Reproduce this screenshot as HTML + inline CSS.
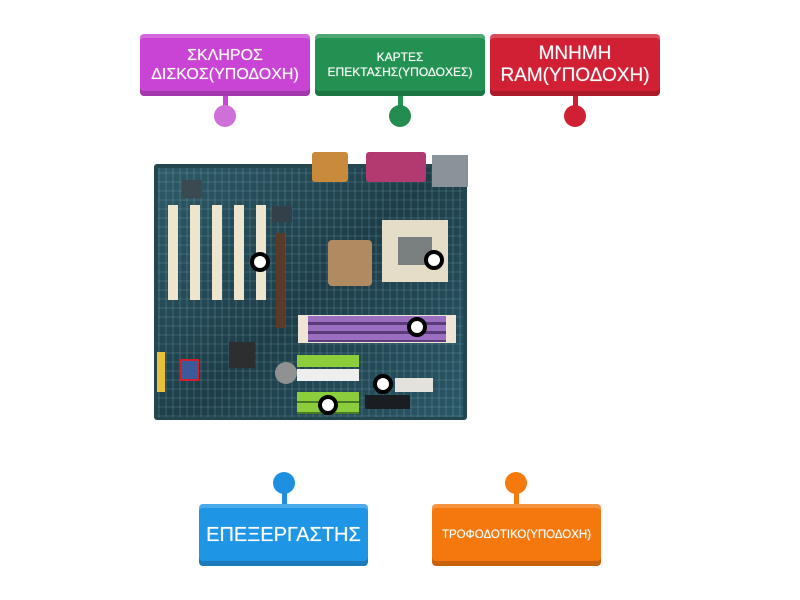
<!DOCTYPE html>
<html><head><meta charset="utf-8"><style>
body{margin:0;width:800px;height:600px;background:#fff;position:relative;overflow:hidden;font-family:"Liberation Sans","DejaVu Sans",sans-serif}
.box{position:absolute;width:170px;height:62px;border-radius:4px;color:#fff;display:flex;align-items:center;justify-content:center;text-align:center;box-sizing:border-box;box-shadow:inset 0 -5px 0 rgba(0,0,0,.18),inset 0 4px 0 rgba(255,255,255,.2);text-shadow:0 0 1px rgba(255,255,255,.6)}
.stem{position:absolute;width:5px}
.dot{position:absolute;width:22px;height:22px;border-radius:50%}
.a{position:absolute}
.m{position:absolute;width:12px;height:12px;border-radius:50%;background:#fff;border:4px solid #000}
</style></head><body>
<div class="box" style="left:140px;top:34px;background:#c944d4;font-size:16px;line-height:19px">ΣΚΛΗΡΟΣ<br>ΔΙΣΚΟΣ(ΥΠΟΔΟΧΗ)</div>
<div class="stem" style="left:223px;top:96px;height:18px;background:#c944d4"></div>
<div class="dot" style="left:214px;top:105px;background:#cf6fd8"></div>
<div class="box" style="left:315px;top:34px;background:#239152;font-size:12px;line-height:15px">ΚΑΡΤΕΣ<br>ΕΠΕΚΤΑΣΗΣ(ΥΠΟΔΟΧΕΣ)</div>
<div class="stem" style="left:398px;top:96px;height:18px;background:#239152"></div>
<div class="dot" style="left:389px;top:105px;background:#248c50"></div>
<div class="box" style="left:490px;top:34px;background:#d11f34;font-size:19px;line-height:22px">ΜΝΗΜΗ<br>RAM(ΥΠΟΔΟΧΗ)</div>
<div class="stem" style="left:573px;top:96px;height:18px;background:#d11f34"></div>
<div class="dot" style="left:564px;top:105px;background:#d11f34"></div>

<div class="stem" style="left:282px;top:484px;height:20px;background:#1f8fe0"></div>
<div class="dot" style="left:273px;top:472px;background:#1f8fe0"></div>
<div class="box" style="left:199px;top:504px;width:169px;background:#1f95e6;font-size:20px">ΕΠΕΞΕΡΓΑΣΤΗΣ</div>
<div class="stem" style="left:514px;top:484px;height:20px;background:#f57a0d"></div>
<div class="dot" style="left:505px;top:472px;background:#f57a0d"></div>
<div class="box" style="left:432px;top:504px;width:169px;background:#f5780e;font-size:11.5px">ΤΡΟΦΟΔΟΤΙΚΟ(ΥΠΟΔΟΧΗ)</div>

<div class="a" style="left:154px;top:164px;width:313px;height:256px;background:#23464f;border-radius:3px"></div>
<div class="a" style="left:158px;top:168px;width:305px;height:249px;background:repeating-linear-gradient(90deg,rgba(160,200,210,.12) 0 2px,transparent 2px 7px),repeating-linear-gradient(0deg,rgba(160,200,210,.1) 0 2px,transparent 2px 9px),linear-gradient(135deg,#2e5a68,#1d3d48 50%,#2a5766)"></div>
<div class="a" style="left:312px;top:152px;width:36px;height:30px;background:#c98a3c;border-radius:3px"></div>
<div class="a" style="left:366px;top:152px;width:60px;height:30px;background:#b23a70;border-radius:3px"></div>
<div class="a" style="left:432px;top:155px;width:36px;height:32px;background:#8a9399"></div>
<div class="a" style="left:182px;top:180px;width:20px;height:18px;background:#3a4a50"></div>
<div class="a" style="left:272px;top:206px;width:20px;height:16px;background:#33404a"></div>
<div class="a" style="left:168px;top:205px;width:10px;height:95px;background:#eee5cf"></div>
<div class="a" style="left:190px;top:205px;width:10px;height:95px;background:#eee5cf"></div>
<div class="a" style="left:212px;top:205px;width:10px;height:95px;background:#eee5cf"></div>
<div class="a" style="left:234px;top:205px;width:10px;height:95px;background:#eee5cf"></div>
<div class="a" style="left:256px;top:205px;width:10px;height:95px;background:#eee5cf"></div>
<div class="a" style="left:276px;top:233px;width:9px;height:95px;background:#5a3a28"></div>
<div class="a" style="left:382px;top:220px;width:66px;height:62px;background:#e5ddc8"></div>
<div class="a" style="left:398px;top:237px;width:34px;height:28px;background:#7a7f7f"></div>
<div class="a" style="left:328px;top:240px;width:44px;height:46px;background:#b08a60;border-radius:4px"></div>
<div class="a" style="left:298px;top:315px;width:158px;height:28px;background:#eee5d6"></div>
<div class="a" style="left:308px;top:316px;width:138px;height:26px;background:repeating-linear-gradient(#9a6fc0 0 6px,#5b3a7a 6px 9px)"></div>
<div class="a" style="left:297px;top:355px;width:62px;height:12px;background:#8ccd3c"></div>
<div class="a" style="left:297px;top:369px;width:62px;height:12px;background:#eee"></div>
<div class="a" style="left:297px;top:392px;width:62px;height:22px;background:repeating-linear-gradient(#8ccd3c 0 9px,#4b7a25 9px 11px)"></div>
<div class="a" style="left:395px;top:378px;width:38px;height:14px;background:#e4e2dc"></div>
<div class="a" style="left:365px;top:395px;width:45px;height:14px;background:#1a1e22"></div>
<div class="a" style="left:275px;top:362px;width:22px;height:22px;border-radius:50%;background:#8f9290"></div>
<div class="a" style="left:229px;top:342px;width:26px;height:26px;background:#2c2e30"></div>
<div class="a" style="left:157px;top:352px;width:8px;height:40px;background:#e6c23a"></div>
<div class="a" style="left:180px;top:359px;width:19px;height:22px;border:2px solid #d0202a;background:#3c5a9a;box-sizing:border-box"></div>
<div class="m" style="left:250px;top:252px"></div>
<div class="m" style="left:424px;top:250px"></div>
<div class="m" style="left:407px;top:317px"></div>
<div class="m" style="left:373px;top:374px"></div>
<div class="m" style="left:318px;top:395px"></div>
</body></html>
